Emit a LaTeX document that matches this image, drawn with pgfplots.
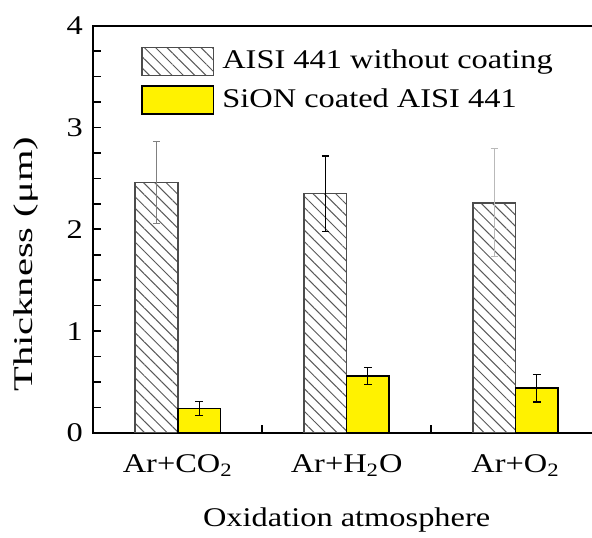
\documentclass[border=0pt]{standalone}
\usepackage{fontspec}
\setmainfont{Liberation Serif}[FakeStretch=1.2]
\newfontfamily\ylabfont{Liberation Serif}[FakeStretch=1.5]
\usepackage{pgfplots}
\pgfplotsset{compat=1.18}
\usetikzlibrary{patterns.meta}

\tikzset{
  uncoated/.style={draw=gray!60!black, line width=0.8bp,
    pattern={Lines[angle=-45,distance=4bp,line width=0.5bp]}, pattern color=gray!70!black},
  coated/.style={draw=black, line width=0.8bp, fill=yellow},
}

\begin{document}
\fontsize{13.5bp}{16bp}\selectfont
\begin{tikzpicture}
\begin{axis}[
  scale only axis,
  width=253.2bp, height=203.5bp,
  xmin=-0.5, xmax=2.5, ymin=0, ymax=4,
  xtick={0,1,2},
  xticklabels={Ar+CO\textsubscript{2}, Ar+H\textsubscript{2}O, Ar+O\textsubscript{2}},
  minor xtick={0.5,1.5},
  ytick={0,1,2,3,4}, minor y tick num=3,
  tick align=inside, ytick pos=left, xtick pos=bottom,
  major x tick style={draw=none},
  major tick length=4bp, minor tick length=4bp,
  axis line style={line width=1bp},
  every tick/.style={black, line width=0.8bp},
  /pgf/number format/assume math mode=true,
  yticklabel style={xshift=-0.5bp},
  xticklabel style={yshift=-6bp},
  xlabel={Oxidation atmosphere},
  ylabel={\ylabfont Thickness (μm)},
  xlabel style={at={([yshift=-32.5bp]axis cs:1,0)}, anchor=north},
  ylabel style={at={([xshift=-23bp]rel axis cs:0,0.414)}, anchor=south},
  legend cell align=left,
  legend style={at={(0.0939,0.951)}, anchor=north west, draw=none, fill=none,
    inner sep=0pt, row sep=4bp, column sep=2bp, nodes={inner sep=2bp}},
]
\addplot[ybar, bar width=0.252, bar shift=-0.126, uncoated,
  legend image code/.code={\draw[uncoated] (0bp,-7bp) rectangle (35.7bp,7bp);}]
  coordinates {(0,2.46) (1,2.35) (2,2.26)};
\addlegendentry{AISI 441 without coating}
\addplot[ybar, bar width=0.252, bar shift=0.126, coated,
  legend image code/.code={\draw[coated] (0bp,-7bp) rectangle (35.7bp,7bp);}]
  coordinates {(0,0.24) (1,0.56) (2,0.44)};
\addlegendentry{SiON coated AISI 441}

% error bars of the uncoated samples (each drawn in its own grey)
\addplot[forget plot, draw=none, mark=none,
  error bars/.cd, y dir=both, y explicit,
  error bar style={draw=gray, line width=0.5bp},
  error mark options={rotate=90, draw=gray, mark size=1.75bp, line width=0.6bp}]
  coordinates {(-0.126,2.46) +- (0,0.40)};
\addplot[forget plot, draw=none, mark=none,
  error bars/.cd, y dir=both, y explicit,
  error bar style={draw=black, line width=0.5bp},
  error mark options={rotate=90, draw=black, mark size=1.75bp, line width=0.6bp}]
  coordinates {(0.874,2.35) +- (0,0.37)};
\addplot[forget plot, draw=none, mark=none,
  error bars/.cd, y dir=both, y explicit,
  error bar style={draw=gray!55, line width=0.5bp},
  error mark options={rotate=90, draw=gray!55, mark size=1.75bp, line width=0.6bp}]
  coordinates {(1.874,2.26) +- (0,0.53)};
% error bars of the coated samples
\addplot[forget plot, draw=none, mark=none,
  error bars/.cd, y dir=both, y explicit,
  error bar style={draw=black, line width=0.5bp},
  error mark options={rotate=90, draw=black, mark size=2bp, line width=0.6bp}]
  coordinates {(0.126,0.24) +- (0,0.067) (1.126,0.56) +- (0,0.083) (2.126,0.44) +- (0,0.136)};

\coordinate (bl) at (axis cs:-0.5,0);
\coordinate (tr) at (axis cs:2.453,4);
\end{axis}
\pgfresetboundingbox
\path[use as bounding box] ([xshift=-46.65bp,yshift=-52.1bp]bl) rectangle ([yshift=12.85bp]tr);
\end{tikzpicture}
\end{document}
